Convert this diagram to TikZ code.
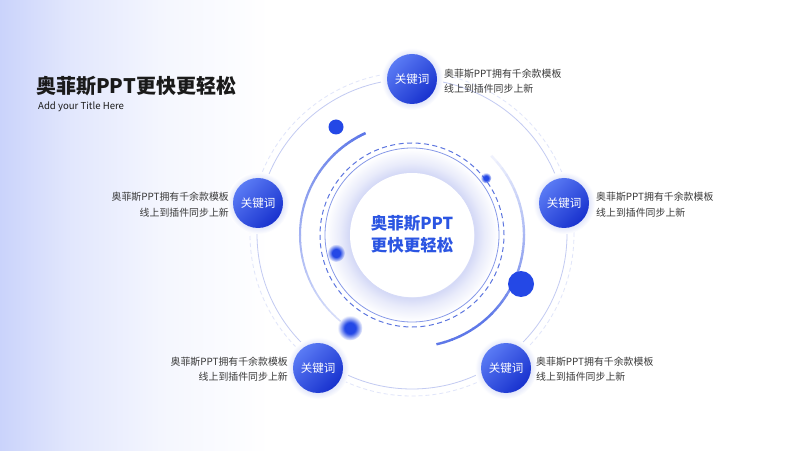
\documentclass[tikz,border=0pt]{standalone}
\usepackage{fontspec}
\setmainfont{Noto Sans CJK SC}
\usetikzlibrary{fadings}
\definecolor{bgblue}{HTML}{CAD3FB}
\definecolor{halocol}{HTML}{D3D8F6}
\definecolor{outerc}{HTML}{C3CBF2}
\definecolor{faintc}{HTML}{E0E5FA}
\definecolor{innerc}{HTML}{8799E8}
\definecolor{dashc}{HTML}{5C75DF}
\definecolor{arccol}{HTML}{5E78E8}
\definecolor{dotblue}{HTML}{2448E6}
\definecolor{kwlight}{HTML}{5A7AF4}
\definecolor{kwdark}{HTML}{1832CE}
\definecolor{kwglow}{HTML}{E3E7FA}
\definecolor{centertext}{HTML}{2B55E2}
\definecolor{titlecol}{HTML}{1A1A1A}
\definecolor{desccol}{HTML}{3A3A3A}
\pgfdeclareradialshading{halo}{\pgfpoint{0bp}{0bp}}{color(0bp)=(white); color(17.4bp)=(white); color(17.7bp)=(halocol); color(20.5bp)=(halocol!50!white); color(24.5bp)=(white); color(50bp)=(white)}
\pgfdeclareradialshading{kwhalo}{\pgfpoint{0bp}{0bp}}{color(0bp)=(kwglow); color(20bp)=(kwglow); color(25bp)=(white); color(50bp)=(white)}
\pgfdeclarehorizontalshading{bgshade}{100bp}{color(0bp)=(bgblue); color(25bp)=(bgblue); color(38bp)=(bgblue!55!white); color(55bp)=(bgblue!20!white); color(75bp)=(white); color(100bp)=(white)}
\pgfdeclareradialshading{blobshade}{\pgfpoint{0bp}{0bp}}{color(0bp)=(white); color(11bp)=(white); color(25bp)=(black); color(50bp)=(black)}
\pgfdeclarefading{blob}{\pgfuseshading{blobshade}}
\tikzset{
  kw/.style={circle, minimum size=50pt, inner sep=0pt, text=white,
    font=\fontsize{11.5}{12}\selectfont, top color=kwlight, bottom color=kwdark, shading angle=45},
  desc/.style={font=\fontsize{9.9}{15.5}\selectfont, text=desccol, inner sep=0pt},
  soliddot/.style={fill=dotblue},
  blurdot/.style={fill=dotblue, path fading=blob},
}
\begin{document}
\begin{tikzpicture}[x=1pt,y=1pt]
\useasboundingbox (0,0) rectangle (800,450);
\fill[white] (0,0) rectangle (800,450);
\shade[shading=bgshade] (0,0) rectangle (270,450);
\coordinate (C) at (412,215);
\coordinate (O) at (412,216);
% central halo and rings
\shade[shading=halo] (C) circle (88);
\draw[outerc, line width=0.8] (O) circle (155);
\draw[faintc, line width=0.8, dash pattern=on 4pt off 3pt] (O) circle (162);
\draw[innerc, line width=0.8] (C) circle (87);
\draw[dashc, line width=1, dash pattern=on 5pt off 3.5pt] (C) circle (92);
% right arc (fading in from top)
\foreach \i in {0,...,29}{
  \pgfmathsetmacro\a{45-\i*122/30}
  \pgfmathsetmacro\b{\a-122/30-0.4}
  \pgfmathtruncatemacro\p{min(100,10+\i*4)}
  \draw[arccol!\p!white, line width=2.4] ([shift={(\a:112)}]C) arc[start angle=\a, end angle=\b, radius=112];
}
% left arc
\foreach \i in {0,...,29}{
  \pgfmathsetmacro\a{114.5+\i*115.5/30}
  \pgfmathsetmacro\b{\a+115.5/30+0.4}
  \pgfmathtruncatemacro\p{max(25,100-\i*2.6)}
  \pgfmathsetmacro\w{2.6-\i*0.035}
  \draw[arccol!\p!white, line width=\w] ([shift={(\a:112)}]C) arc[start angle=\a, end angle=\b, radius=112];
}
% dots
\fill[soliddot] (336,323) circle (7.5);
\fill[soliddot] (521,166) circle (13);
\fill[blurdot] (486,272) circle (5.5);
\fill[blurdot] (336,197) circle (9);
\fill[blurdot] (350,122) circle (12.5);
% center
\fill[white] (C) circle (62);
\node[font=\bfseries\fontsize{16.5}{22}\selectfont, text=centertext, align=center] (ctr) at (412,216) {奥菲斯PPT\\更快更轻松};
% keyword glows
\foreach \p in {(412,371),(564,247),(258,247),(318,82),(506,82)}{
  \shade[shading=kwhalo] \p circle (31);
}
\node[kw] (k1) at (412,371) {关键词};
\node[kw] (k2) at (564,247) {关键词};
\node[kw] (k3) at (258,247) {关键词};
\node[kw] (k4) at (318,82) {关键词};
\node[kw] (k5) at (506,82) {关键词};
% descriptions
\node[desc, anchor=west, align=left] (t1) at (444,369) {奥菲斯PPT拥有千余款模板\\线上到插件同步上新};
\node[desc, anchor=west, align=left] (t2) at (596,245.5) {奥菲斯PPT拥有千余款模板\\线上到插件同步上新};
\node[desc, anchor=east, align=right] (t3) at (229,245.5) {奥菲斯PPT拥有千余款模板\\线上到插件同步上新};
\node[desc, anchor=east, align=right] (t4) at (288,81) {奥菲斯PPT拥有千余款模板\\线上到插件同步上新};
\node[desc, anchor=west, align=left] (t5) at (536,81) {奥菲斯PPT拥有千余款模板\\线上到插件同步上新};
% title
\node[anchor=west, inner sep=0pt, font=\bfseries\fontsize{20}{24}\selectfont, text=titlecol] (title) at (36,364) {奥菲斯PPT更快更轻松};
\node[anchor=west, inner sep=0pt, font=\fontsize{9.6}{11}\selectfont, text=titlecol] (sub) at (38,343) {Add your Title Here};
\end{tikzpicture}
\end{document}
